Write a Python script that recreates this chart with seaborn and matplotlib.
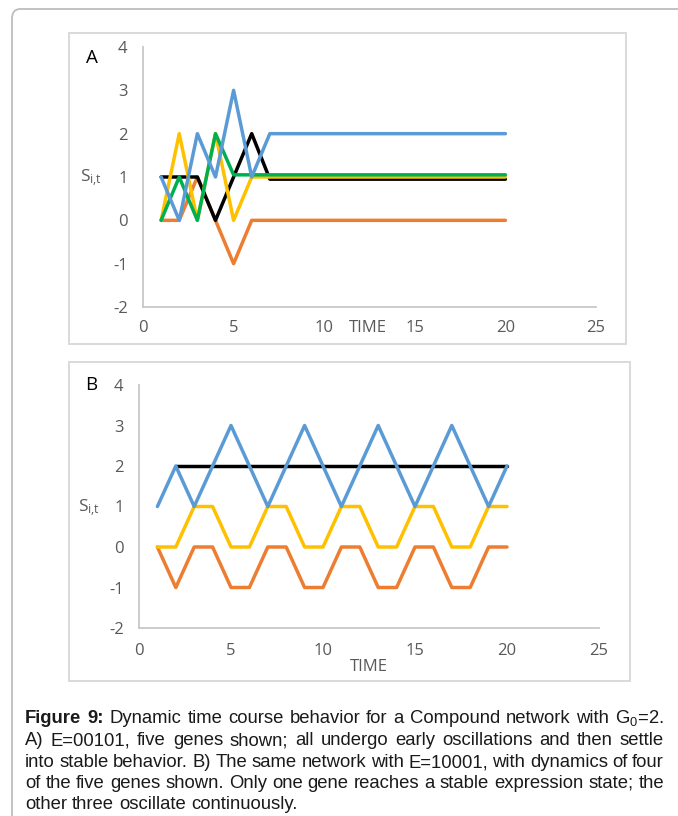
import numpy as np
import pandas as pd
import matplotlib
matplotlib.use("Agg")
import matplotlib.pyplot as plt
from matplotlib.patches import Rectangle, FancyBboxPatch
import seaborn as sns

# ---------------- data ----------------
time = [1, 2, 3, 4, 5, 6, 7, 8, 9, 10, 11, 12, 13, 14, 15, 16, 17, 18, 19, 20]

# Panel A (E=00101)
a_orange = [0, 0, 1, 0, -1, 0, 0, 0, 0, 0, 0, 0, 0, 0, 0, 0, 0, 0, 0, 0]
a_black = [1, 1, 1, 0, 1, 2, 0.95, 0.95, 0.95, 0.95, 0.95, 0.95, 0.95, 0.95, 0.95, 0.95, 0.95, 0.95, 0.95, 0.95]
a_yellow = [0, 2, 0, 2, 0, 1, 1, 1, 1, 1, 1, 1, 1, 1, 1, 1, 1, 1, 1, 1]
a_green = [0, 1, 0, 2, 1.05, 1.05, 1.05, 1.05, 1.05, 1.05, 1.05, 1.05, 1.05, 1.05, 1.05, 1.05, 1.05, 1.05, 1.05, 1.05]
a_blue = [1, 0, 2, 1, 3, 1, 2, 2, 2, 2, 2, 2, 2, 2, 2, 2, 2, 2, 2, 2]

# Panel B (E=10001)
b_orange = [0, -1, 0, 0, -1, -1, 0, 0, -1, -1, 0, 0, -1, -1, 0, 0, -1, -1, 0, 0]
b_yellow = [0, 0, 1, 1, 0, 0, 1, 1, 0, 0, 1, 1, 0, 0, 1, 1, 0, 0, 1, 1]
b_black = [np.nan, 2, 2, 2, 2, 2, 2, 2, 2, 2, 2, 2, 2, 2, 2, 2, 2, 2, 2, 2]
b_blue = [1, 2, 1, 2, 3, 2, 1, 2, 3, 2, 1, 2, 3, 2, 1, 2, 3, 2, 1, 2]

x_ticks = [0, 5, 10, 15, 20, 25]
y_ticks = [-2, -1, 0, 1, 2, 3, 4]

caption_lines = [
    ["Figure", "9:", "Dynamic", "time", "course", "behavior", "for", "a", "Compound", "network", "with", "G$_\\mathregular{0}$=2."],
    "A) E=00101, five genes shown; all undergo early oscillations and then settle".split(),
    "into stable behavior. B) The same network with E=10001, with dynamics of four".split(),
    "of the five genes shown. Only one gene reaches a stable expression state; the".split(),
    "other three oscillate continuously.".split(),
]

C_BLUE = "#5B9BD5"
C_ORANGE = "#ED7D31"
C_YELLOW = "#FFC000"
C_GREEN = "#00B050"
C_BLACK = "#000000"

# ---------------- style ----------------
sns.set_style("white")
plt.rcParams["font.family"] = ["Open Sans", "DejaVu Sans"]
plt.rcParams["mathtext.fontset"] = "custom"
plt.rcParams["mathtext.rm"] = "Open Sans"
plt.rcParams["mathtext.it"] = "Open Sans:italic"

W, H = 678, 816
fig = plt.figure(figsize=(W / 100, H / 100), dpi=100)


def fx(px):
    return px / W


def fy(py):
    return 1 - py / H


# outer rounded frame (top-left)
outer = FancyBboxPatch((fx(12), fy(900)), fx(800), (900 - 9) / H,
                       boxstyle="round,pad=0,rounding_size=0.012",
                       transform=fig.transFigure, facecolor="none",
                       edgecolor="#BDBDBD", linewidth=1.3, clip_on=False)
fig.patches.append(outer)

# panel boxes
for (x0, y0, x1, y1) in [(69, 33, 626, 344), (69, 362, 630, 681)]:
    fig.patches.append(Rectangle((fx(x0), fy(y1)), fx(x1 - x0), (y1 - y0) / H,
                                 transform=fig.transFigure, facecolor="none",
                                 edgecolor="#D9D9D9", linewidth=1.4))

axA = fig.add_axes([fx(143), fy(307), fx(596 - 143), (307 - 47) / H])
axB = fig.add_axes([fx(139), fy(628), fx(599 - 139), (628 - 385) / H])

lw = 2.5
seriesA = [(a_orange, C_ORANGE), (a_black, C_BLACK), (a_yellow, C_YELLOW),
           (a_green, C_GREEN), (a_blue, C_BLUE)]
for vals, col in seriesA:
    sns.lineplot(x=time, y=vals, ax=axA, color=col, linewidth=lw, sort=False)

seriesB = [(b_orange, C_ORANGE), (b_yellow, C_YELLOW), (b_black, C_BLACK), (b_blue, C_BLUE)]
for vals, col in seriesB:
    sns.lineplot(x=time, y=vals, ax=axB, color=col, linewidth=lw, sort=False)

tick_col = "#595959"
for ax, xpad, ypad in [(axA, 9, 11), (axB, 11, 11)]:
    ax.set_xlim(0, 25)
    ax.set_ylim(-2, 4)
    ax.set_xticks(x_ticks)
    ax.set_yticks(y_ticks)
    ax.set_xticklabels([str(v) for v in x_ticks])
    ax.set_yticklabels([str(v) for v in y_ticks])
    ax.tick_params(axis="both", length=0, labelsize=12, colors=tick_col)
    ax.tick_params(axis="x", pad=xpad)
    ax.tick_params(axis="y", pad=ypad)
    for s in ["top", "right"]:
        ax.spines[s].set_visible(False)
    for s in ["left", "bottom"]:
        ax.spines[s].set_color("#C8C8C8")
        ax.spines[s].set_linewidth(1.3)
    ax.set_facecolor("none")
    ax.set_ylabel("S$_\\mathregular{i{,}t}$", rotation=0, fontsize=12.5, color=tick_col)
    ax.set_xlabel("TIME", fontsize=12, color=tick_col)

axA.xaxis.set_label_coords((368 - 143) / 453, (307 - 328) / 260)
axA.xaxis.label.set_va("center")
axA.yaxis.set_label_coords((91 - 143) / 453, (307 - 178) / 260)
axA.yaxis.label.set_va("center")
axA.yaxis.label.set_ha("center")

axB.xaxis.set_label_coords((369 - 139) / 460, (628 - 667) / 243)
axB.xaxis.label.set_va("center")
axB.yaxis.set_label_coords((89 - 139) / 460, (628 - 508) / 243)
axB.yaxis.label.set_va("center")
axB.yaxis.label.set_ha("center")

fig.text(fx(92), fy(58), "A", fontsize=13.5, color="black", ha="center", va="center")
fig.text(fx(91), fy(385), "B", fontsize=13.5, color="black", ha="center", va="center")

# ---------------- caption (justified) ----------------
plt.rcParams["mathtext.rm"] = "Liberation Sans"
renderer = fig.canvas.get_renderer()
cap_x0, cap_x1 = 25, 664
cap_base = [723, 745, 767, 788, 809]
cap_fs = 13.3
for i, words in enumerate(caption_lines):
    texts = []
    for j, w in enumerate(words):
        bold = (i == 0 and j < 2)
        t = fig.text(0, fy(cap_base[i]), w, fontsize=cap_fs, family="Liberation Sans",
                     fontweight="bold" if bold else "normal", color="#1a1a1a",
                     ha="left", va="baseline")
        texts.append(t)
    widths = [t.get_window_extent(renderer).width for t in texts]
    if i < len(caption_lines) - 1 and len(words) > 1:
        gap = (cap_x1 - cap_x0 - sum(widths)) / (len(words) - 1)
    else:
        sp = fig.text(0, 0, "a b", fontsize=cap_fs, family="Liberation Sans")
        sp2 = fig.text(0, 0, "ab", fontsize=cap_fs, family="Liberation Sans")
        gap = sp.get_window_extent(renderer).width - sp2.get_window_extent(renderer).width
        sp.remove()
        sp2.remove()
    x = cap_x0
    for t, w in zip(texts, widths):
        t.set_x(fx(x))
        x += w + gap

fig.savefig("out.png", dpi=100)
